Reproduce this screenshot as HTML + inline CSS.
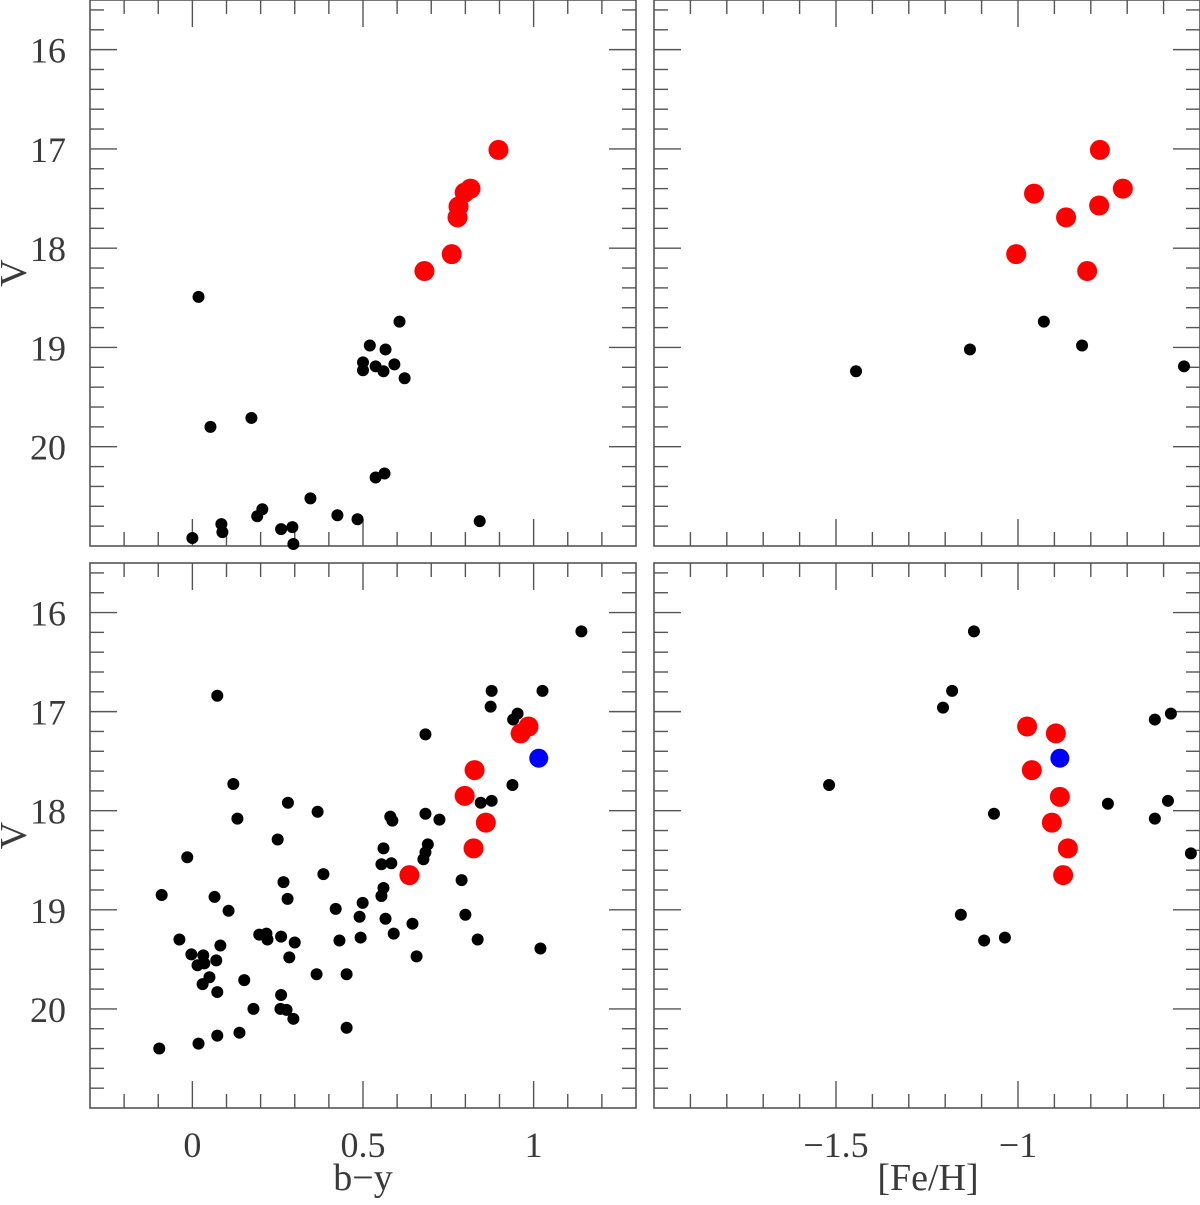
<!DOCTYPE html>
<html><head><meta charset="utf-8"><style>
html,body{margin:0;padding:0;background:#fff;}
svg text{font-family:"Liberation Serif",serif;fill:#3a3a3a;}
</style></head><body>
<svg id="c" width="1200" height="1200" viewBox="0 0 1200 1200" xmlns="http://www.w3.org/2000/svg"></svg>
<script>
// Top-left panel data (b-y, V)
const tlBlackX=[0.018,0.053,0.173,0.50,0.50,0.52,0.537,0.566,0.56,0.592,0.607,0.622,0.537,0.563,0.346,0.425,0.484,0.842,0.085,0.088,0.19,0.205,0.26,0.293,0.296,0.0];
const tlBlackV=[18.49,19.8,19.71,19.15,19.23,18.98,19.19,19.02,19.24,19.17,18.74,19.31,20.31,20.27,20.52,20.69,20.73,20.75,20.78,20.86,20.7,20.63,20.83,20.81,20.98,20.92];
const tlRedX=[0.897,0.815,0.798,0.78,0.777,0.76,0.68];
const tlRedV=[17.01,17.40,17.44,17.58,17.69,18.06,18.23];
// Top-right panel data ([Fe/H], V)
const trRedX=[-0.775,-0.712,-0.956,-0.777,-0.868,-1.005,-0.81];
const trRedV=[17.01,17.40,17.45,17.57,17.69,18.06,18.23];
const trBlackX=[-1.445,-1.132,-0.929,-0.824,-0.544];
const trBlackV=[19.24,19.02,18.74,18.98,19.19];
// Bottom-left panel data
const blBlackX=[1.14,0.073,1.026,0.877,0.874,0.953,0.94,0.683,0.938,0.12,0.132,0.28,0.367,0.683,0.724,0.58,0.586,0.845,0.877,0.25,-0.015,0.56,0.69,0.683,0.677,0.554,0.583,0.267,0.789,0.384,0.56,0.554,-0.09,0.065,0.279,0.106,0.217,0.196,0.26,0.3,0.42,0.499,0.49,0.566,0.59,0.493,0.645,0.8,0.836,1.02,0.431,-0.038,-0.003,0.032,0.035,0.015,0.07,0.082,0.284,0.22,0.657,0.364,0.452,0.05,0.03,0.152,0.073,0.26,0.179,0.258,0.276,0.296,0.138,0.073,0.018,-0.097,0.452];
const blBlackV=[16.19,16.84,16.79,16.79,16.95,17.02,17.08,17.23,17.74,17.73,18.08,17.92,18.01,18.03,18.09,18.06,18.1,17.92,17.90,18.29,18.47,18.38,18.34,18.42,18.49,18.54,18.53,18.72,18.70,18.64,18.78,18.86,18.85,18.87,18.89,19.01,19.24,19.25,19.27,19.33,18.99,18.93,19.07,19.09,19.24,19.28,19.14,19.05,19.3,19.39,19.31,19.3,19.45,19.46,19.54,19.56,19.51,19.36,19.48,19.3,19.47,19.65,19.65,19.68,19.75,19.71,19.83,19.86,20.0,20.0,20.01,20.1,20.24,20.27,20.35,20.4,20.19];
const blRedX=[0.985,0.962,0.827,0.798,0.86,0.824,0.636];
const blRedV=[17.15,17.22,17.59,17.85,18.12,18.38,18.65];
const blBlueX=[1.015];
const blBlueV=[17.47];
// Bottom-right panel data
const brBlackX=[-1.121,-1.181,-1.206,-1.519,-1.066,-1.157,-1.093,-1.036,-0.753,-0.624,-0.58,-0.588,-0.624,-0.525];
const brBlackV=[16.19,16.79,16.96,17.74,18.03,19.05,19.31,19.28,17.93,17.08,17.02,17.90,18.08,18.43];
const brRedX=[-0.975,-0.896,-0.962,-0.885,-0.907,-0.863,-0.876];
const brRedV=[17.15,17.22,17.59,17.86,18.12,18.38,18.65];
const brBlueX=[-0.885];
const brBlueV=[17.47];
const yTicks=[16,17,18,19,20];
const byTicks=[0,0.5,1];
const byTickLabels=["0","0.5","1"];
const feTicks=[-1.5,-1];
const feTickLabels=["\u22121.5","\u22121"];

const svg=document.getElementById('c');
const NS='http://www.w3.org/2000/svg';
function mk(tag,attrs,parent){const e=document.createElementNS(NS,tag);for(const k in attrs)e.setAttribute(k,attrs[k]);(parent||svg).appendChild(e);return e;}

function panel(name,x0,y0,w,h,xmin,xmax,vmin,vmax,xminor,xmajor,showY,xlabs,xlabTexts,showX){
  const g=mk('g',{});
  
  
  const sx=v=>x0+(v-xmin)/(xmax-xmin)*w;
  const sy=v=>y0+(v-vmin)/(vmax-vmin)*h;
  const frame=mk('rect',{x:x0,y:y0,width:w,height:h,fill:'none',stroke:'#555','stroke-width':1.6},g);
  
  
  const st={stroke:'#555','stroke-width':1.4};
  const n=Math.round((xmax-xmin)/xminor);
  for(let i=0;i<=n;i++){
    const v=xmin+i*xminor;const px=sx(v);
    if(px<=x0+1||px>=x0+w-1)continue;
    const maj=Math.abs(v/xmajor-Math.round(v/xmajor))<1e-6;
    const L=maj?27:14;
    mk('line',Object.assign({x1:px,x2:px,y1:y0+h,y2:y0+h-L},st),g);
    mk('line',Object.assign({x1:px,x2:px,y1:y0,y2:y0+L},st),g);
  }
  for(let v=Math.ceil(vmin*5)/5;v<=vmax+1e-6;v+=0.2){
    const py=sy(v);
    if(py<=y0+1||py>=y0+h-1)continue;
    const maj=Math.abs(v-Math.round(v))<1e-6;
    const L=maj?27:14;
    mk('line',Object.assign({x1:x0,x2:x0+L,y1:py,y2:py},st),g);
    mk('line',Object.assign({x1:x0+w,x2:x0+w-L,y1:py,y2:py},st),g);
  }
  if(showY){
    yTicks.forEach(t=>{const tx=mk('text',{x:x0-24,y:sy(t)+13,'font-size':36,'text-anchor':'end'},g);tx.textContent=String(t);
      
      });
    const yl=mk('text',{x:0,y:0,'font-size':38,'text-anchor':'middle',transform:`translate(26,${y0+h/2}) rotate(-90)`},g);
    yl.textContent='V';
    
    
  }
  if(showX){
    xlabs.forEach((t,i)=>{const tx=mk('text',{x:sx(t),y:y0+h+49,'font-size':36,'text-anchor':'middle'},g);tx.textContent=xlabTexts[i];
      
      });
  }
  return {g,sx,sy};
}
function dots(p,xs,vs,r,color,nm){
  xs.forEach((x,i)=>{const c=mk('circle',{cx:p.sx(x),cy:p.sy(vs[i]),r:r,fill:color},p.g);
    
    });
}
const tl=panel('panel-top-left',90,0,546,546,-0.3,1.3,15.5,21.0,0.1,0.5,true,byTicks,byTickLabels,false);
dots(tl,tlBlackX,tlBlackV,6,'#000','star-black');dots(tl,tlRedX,tlRedV,10,'#f00','star-red');
const tr=panel('panel-top-right',654,0,546,546,-2.0,-0.5,15.5,21.0,0.1,0.5,false,feTicks,feTickLabels,false);
dots(tr,trBlackX,trBlackV,6,'#000','star-black');dots(tr,trRedX,trRedV,10,'#f00','star-red');
const bl=panel('panel-bottom-left',90,563,546,545,-0.3,1.3,15.5,21.0,0.1,0.5,true,byTicks,byTickLabels,true);
dots(bl,blBlackX,blBlackV,6,'#000','star-black');dots(bl,blRedX,blRedV,10,'#f00','star-red');dots(bl,blBlueX,blBlueV,9.5,'#00f','star-blue');
const br=panel('panel-bottom-right',654,563,546,545,-2.0,-0.5,15.5,21.0,0.1,0.5,false,feTicks,feTickLabels,true);
dots(br,brBlackX,brBlackV,6,'#000','star-black');dots(br,brRedX,brRedV,10,'#f00','star-red');dots(br,brBlueX,brBlueV,9.5,'#00f','star-blue');
const xt1=mk('text',{x:363,y:1190,'font-size':38,'text-anchor':'middle'});xt1.textContent='b\u2212y';


const xt2=mk('text',{x:928,y:1190,'font-size':38,'text-anchor':'middle'});xt2.textContent='[Fe/H]';


</script>
</body></html>
